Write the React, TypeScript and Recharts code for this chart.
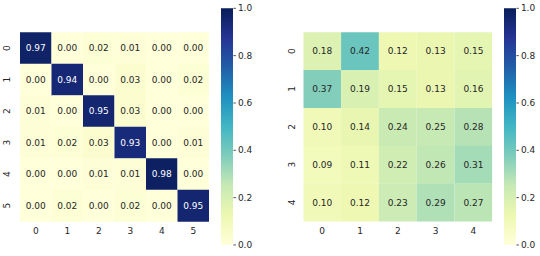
import React from "react";
import { BarChart, Bar, XAxis, YAxis, Cell, LabelList } from "recharts";

// ---------- data ----------
const leftLabels = ["0", "1", "2", "3", "4", "5"];
const leftMatrix: number[][] = [
  [0.97, 0.0, 0.02, 0.01, 0.0, 0.0],
  [0.0, 0.94, 0.0, 0.03, 0.0, 0.02],
  [0.01, 0.0, 0.95, 0.03, 0.0, 0.0],
  [0.01, 0.02, 0.03, 0.93, 0.0, 0.01],
  [0.0, 0.0, 0.01, 0.01, 0.98, 0.0],
  [0.0, 0.02, 0.0, 0.02, 0.0, 0.95],
];

const rightLabels = ["0", "1", "2", "3", "4"];
const rightMatrix: number[][] = [
  [0.18, 0.42, 0.12, 0.13, 0.15],
  [0.37, 0.19, 0.15, 0.13, 0.16],
  [0.1, 0.14, 0.24, 0.25, 0.28],
  [0.09, 0.11, 0.22, 0.26, 0.31],
  [0.1, 0.12, 0.23, 0.29, 0.27],
];

const colorbarTicks = [0, 0.2, 0.4, 0.6, 0.8, 1.0];

// ---------- colormap (YlGnBu) ----------
const YLGNBU = [
  "#ffffd9",
  "#edf8b1",
  "#c7e9b4",
  "#7fcdbb",
  "#41b6c4",
  "#1d91c0",
  "#225ea8",
  "#253494",
  "#081d58",
];

const hexToRgb = (h: string) => [
  parseInt(h.slice(1, 3), 16),
  parseInt(h.slice(3, 5), 16),
  parseInt(h.slice(5, 7), 16),
];

function cmapRgb(v: number): number[] {
  const t = Math.max(0, Math.min(1, v)) * (YLGNBU.length - 1);
  const i = Math.min(Math.floor(t), YLGNBU.length - 2);
  const f = t - i;
  const a = hexToRgb(YLGNBU[i]);
  const b = hexToRgb(YLGNBU[i + 1]);
  return a.map((c, k) => c + (b[k] - c) * f);
}
function cmap(v: number): string {
  const [r, g, b] = cmapRgb(v);
  return `rgb(${Math.round(r)},${Math.round(g)},${Math.round(b)})`;
}
function textColor(v: number): string {
  const lin = cmapRgb(v).map((c) => {
    const s = c / 255;
    return s <= 0.03928 ? s / 12.92 : Math.pow((s + 0.055) / 1.055, 2.4);
  });
  const lum = 0.2126 * lin[0] + 0.7152 * lin[1] + 0.0722 * lin[2];
  return lum > 0.408 ? "#262626" : "#ffffff";
}

const FONT = "DejaVu Sans, sans-serif";
const TXT = "#262626";

// ---------- heatmap ----------
type HeatProps = {
  matrix: number[][];
  labels: string[];
  left: number;
  yLabelOffset: number;
  plotLeft: number;
  plotRight: number;
};

function Heatmap({ matrix, labels, left, yLabelOffset, plotLeft, plotRight }: HeatProps) {
  const width = 270;
  const height = 256;
  const n = labels.length;
  const data = matrix.map((row, i) => {
    const o: Record<string, number | string> = { row: labels[i] };
    row.forEach((v, j) => {
      o[`c${j}`] = 1;
      o[`v${j}`] = v;
    });
    return o;
  });
  const xTicks = labels.map((_, j) => j + 0.5);

  const XTick = (p: any) => (
    <text x={p.x} y={p.y + 9.4} textAnchor="middle" dominantBaseline="central" fontSize={9} fontFamily={FONT} fill={TXT}>
      {Math.floor(p.payload.value)}
    </text>
  );
  const YTick = (p: any) => (
    <text
      x={0}
      y={0}
      transform={`translate(${p.x - yLabelOffset},${p.y}) rotate(-90)`}
      textAnchor="middle"
      dominantBaseline="central"
      fontSize={9}
      fontFamily={FONT}
      fill={TXT}
    >
      {p.payload.value}
    </text>
  );

  return (
    <div style={{ position: "absolute", left, top: 0, width, height }}>
      <BarChart
        width={width}
        height={height}
        data={data}
        layout="vertical"
        barCategoryGap={0}
        barGap={0}
        margin={{ top: 32.3, bottom: 10.7, left: 0, right: width - plotRight }}
      >
        <XAxis
          type="number"
          domain={[0, n]}
          ticks={xTicks}
          interval={0}
          axisLine={false}
          tickLine={false}
          tickSize={0}
          tickMargin={0}
          height={24}
          tick={XTick}
          allowDataOverflow
        />
        <YAxis
          type="category"
          dataKey="row"
          width={plotLeft}
          axisLine={false}
          tickLine={false}
          tickSize={0}
          tickMargin={0}
          tick={YTick}
          interval={0}
        />
        {labels.map((_, j) => (
          <Bar key={j} dataKey={`c${j}`} stackId="s" isAnimationActive={false}>
            {matrix.map((row, i) => (
              <Cell key={i} fill={cmap(row[j])} />
            ))}
            <LabelList
              dataKey={`v${j}`}
              content={(p: any) => {
                const v = Number(p.value);
                return (
                  <text
                    x={Number(p.x) + Number(p.width) / 2}
                    y={Number(p.y) + Number(p.height) / 2}
                    textAnchor="middle"
                    dominantBaseline="central"
                    fontSize={9}
                    fontFamily={FONT}
                    fill={textColor(v)}
                  >
                    {v.toFixed(2)}
                  </text>
                );
              }}
            />
          </Bar>
        ))}
      </BarChart>
    </div>
  );
}

// ---------- colorbar ----------
function Colorbar({ left, id }: { left: number; id: string }) {
  const barW = 12.4;
  const axisW = 30;
  const data = [{ name: "cb", v: 1 }];
  const CTick = (p: any) => (
    <text x={p.x} y={p.y} textAnchor="start" dominantBaseline="central" fontSize={9} fontFamily={FONT} fill={TXT}>
      {Number(p.payload.value).toFixed(1)}
    </text>
  );
  return (
    <div style={{ position: "absolute", left, top: 0, width: barW + axisW, height: 256 }}>
      <BarChart
        width={barW + axisW}
        height={256}
        data={data}
        barCategoryGap={0}
        margin={{ top: 8.3, bottom: 11, left: 0, right: 0 }}
      >
        <defs>
          <linearGradient id={id} x1="0" y1="1" x2="0" y2="0">
            {YLGNBU.map((c, k) => (
              <stop key={k} offset={k / (YLGNBU.length - 1)} stopColor={c} />
            ))}
          </linearGradient>
        </defs>
        <XAxis dataKey="name" hide />
        <YAxis
          orientation="right"
          type="number"
          domain={[0, 1]}
          ticks={colorbarTicks}
          interval={0}
          width={axisW}
          axisLine={false}
          tickLine={{ stroke: TXT, strokeWidth: 0.8 }}
          tickSize={2.5}
          tickMargin={2}
          tick={CTick}
        />
        <Bar dataKey="v" fill={`url(#${id})`} isAnimationActive={false} />
      </BarChart>
    </div>
  );
}

export default function App() {
  return (
    <div style={{ position: "absolute", left: 0, top: 0, width: 540, height: 256, background: "#fff" }}>
      <Heatmap matrix={leftMatrix} labels={leftLabels} left={0} yLabelOffset={12.8} plotLeft={20} plotRight={209} />
      <Colorbar left={221} id="cbLeft" />
      <Heatmap matrix={rightMatrix} labels={rightLabels} left={270} yLabelOffset={11} plotLeft={33.3} plotRight={222.3} />
      <Colorbar left={504} id="cbRight" />
    </div>
  );
}
